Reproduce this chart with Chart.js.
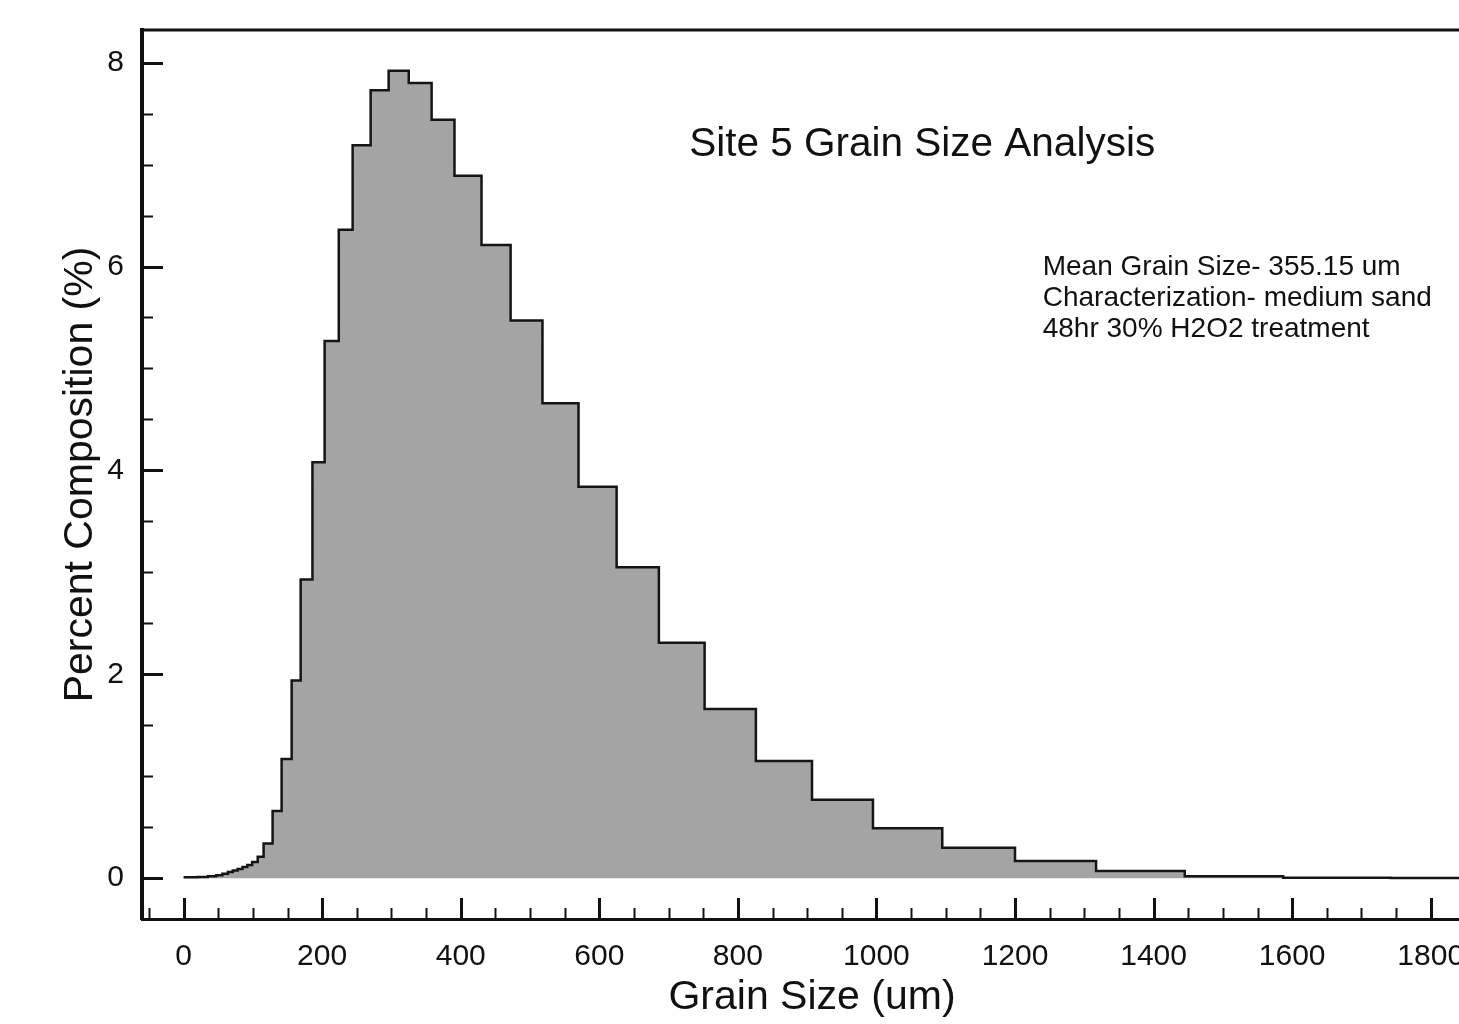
<!DOCTYPE html>
<html>
<head>
<meta charset="utf-8">
<script src="https://cdn.jsdelivr.net/npm/chart.js@4/dist/chart.umd.min.js"></script>
<style>
  body { margin: 0; background: #fff; overflow: hidden; }
  #wrap { width: 1490px; height: 1024px; }
</style>
</head>
<body>
<div id="wrap"><canvas id="grainChart" width="1490" height="1024"></canvas></div>
<script>
// bin edges (um) and percent composition per bin
var binEdges = [0, 20, 35, 47, 56, 64, 71, 78, 85, 92, 99, 107, 115.5, 128.5, 141.5, 156, 169, 186, 203.6, 224, 244, 270, 296, 325, 358, 391, 430, 472, 518, 570, 625, 686, 752, 826, 907, 995, 1095, 1200, 1317, 1445, 1587, 1742, 1912];
var binValues = [0.01, 0.012, 0.02, 0.03, 0.045, 0.06, 0.075, 0.09, 0.11, 0.13, 0.16, 0.21, 0.34, 0.66, 1.17, 1.94, 2.93, 4.08, 5.27, 6.36, 7.19, 7.73, 7.92, 7.80, 7.44, 6.89, 6.21, 5.47, 4.66, 3.84, 3.05, 2.31, 1.66, 1.15, 0.77, 0.49, 0.30, 0.17, 0.07, 0.02, 0.005, 0.002];

var xTicks = [0, 200, 400, 600, 800, 1000, 1200, 1400, 1600, 1800];
var yTicks = [0, 2, 4, 6, 8];
var xMinorStep = 50;
var yMinorStep = 0.5;

var chartTitle = 'Site 5 Grain Size Analysis';
var notes = ['Mean Grain Size- 355.15 um', 'Characterization- medium sand', '48hr 30% H2O2 treatment'];

var points = binValues.map(function(v, i){ return {x: binEdges[i], y: v}; });
points.push({x: binEdges[binEdges.length - 1], y: binValues[binValues.length - 1]});

var FONT = '"Liberation Sans", Arial, Helvetica, sans-serif';

// inward ticks, top/right frame and the text labels inside the plot
var framePlugin = {
    id: 'frame',
    afterDraw: function(chart){
        var ctx = chart.ctx;
        var a = chart.chartArea;
        var xs = chart.scales.x, ys = chart.scales.y;
        ctx.save();
        ctx.strokeStyle = '#111';
        ctx.lineWidth = 3;
        ctx.beginPath();
        ctx.moveTo(a.left, a.top); ctx.lineTo(a.right, a.top); ctx.lineTo(a.right, a.bottom);
        ctx.stroke();

        var v, p, major;
        for(v = Math.ceil(xs.min / xMinorStep) * xMinorStep; v <= xs.max; v += xMinorStep){
            p = Math.round(xs.getPixelForValue(v)) + 0.5;
            major = xTicks.indexOf(v) >= 0;
            ctx.lineWidth = major ? 3 : 2;
            ctx.beginPath();
            ctx.moveTo(p, a.bottom); ctx.lineTo(p, a.bottom - (major ? 21 : 11));
            ctx.stroke();
        }
        for(v = 0; v <= ys.max; v += yMinorStep){
            p = Math.round(ys.getPixelForValue(v)) + 0.5;
            major = yTicks.indexOf(v) >= 0;
            ctx.lineWidth = major ? 3 : 2;
            ctx.beginPath();
            ctx.moveTo(a.left, p); ctx.lineTo(a.left + (major ? 21 : 11), p);
            ctx.stroke();
        }

        ctx.fillStyle = '#111';
        ctx.textBaseline = 'middle';
        ctx.textAlign = 'center';
        ctx.font = '40.5px ' + FONT;
        ctx.fillText(chartTitle, xs.getPixelForValue(1066), ys.getPixelForValue(7.19));
        ctx.textAlign = 'left';
        ctx.font = '28px ' + FONT;
        notes.forEach(function(t, i){
            ctx.fillText(t, xs.getPixelForValue(1240), ys.getPixelForValue(5.99) + i * 31);
        });
        ctx.restore();
    }
};

var canvas = document.getElementById('grainChart').getContext('2d');
var chart = new Chart(canvas, {
    type: 'line',
    data: {
        datasets: [{
            data: points,
            stepped: true,
            fill: 'origin',
            backgroundColor: '#a4a4a4',
            borderColor: '#151515',
            borderWidth: 2.5,
            pointRadius: 0,
            tension: 0
        }]
    },
    options: {
        responsive: false,
        animation: false,
        devicePixelRatio: 1,
        layout: { padding: { top: 30, right: 8, left: 0, bottom: 0 } },
        plugins: { legend: { display: false }, tooltip: { enabled: false } },
        scales: {
            x: {
                type: 'linear',
                min: -60,
                max: 1874,
                afterBuildTicks: function(scale){ scale.ticks = xTicks.map(function(v){ return {value: v}; }); },
                afterFit: function(scale){ scale.height = 105; scale.paddingLeft = 0; scale.paddingRight = 0; },
                grid: { display: false, drawTicks: false },
                border: { display: true, color: '#111', width: 3 },
                ticks: { padding: 20, maxRotation: 0, autoSkip: false, color: '#111', font: { family: FONT, size: 30 },
                         callback: function(v){ return String(v); } },
                title: { display: true, text: 'Grain Size (um)', color: '#111', padding: { top: 0, bottom: 2 }, font: { family: FONT, size: 41 } }
            },
            y: {
                type: 'linear',
                min: -0.4,
                max: 8.32,
                afterBuildTicks: function(scale){ scale.ticks = yTicks.map(function(v){ return {value: v}; }); },
                afterFit: function(scale){ scale.width = 142; scale.paddingTop = 0; scale.paddingBottom = 0; },
                grid: { display: false, drawTicks: false },
                border: { display: true, color: '#111', width: 4 },
                ticks: { padding: 18, color: '#111', font: { family: FONT, size: 30 },
                         callback: function(v){ return String(v); } },
                title: { display: true, text: 'Percent Composition (%)', color: '#111', padding: { top: 56, bottom: 0 }, font: { family: FONT, size: 41 } }
            }
        }
    },
    plugins: [framePlugin]
});
</script>
</body>
</html>
